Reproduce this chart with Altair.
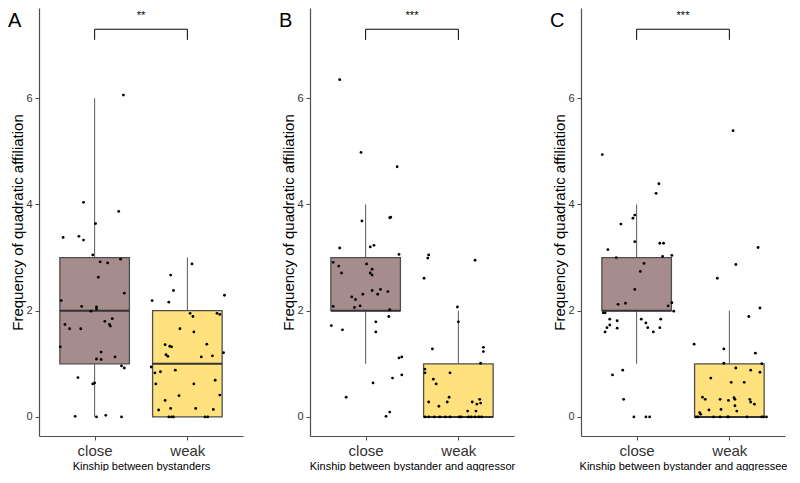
import altair as alt
import pandas as pd

groups = ["close", "weak"]
box_colors = ["#A68C8C", "#FFE27E"]
panel_letters = ["A", "B", "C"]
stars = ["**", "***", "***"]
x_titles = ["Kinship between bystanders",
            "Kinship between bystander and aggressor",
            "Kinship between bystander and aggressee"]
y_title = "Frequency of quadratic affiliation"

# box statistics per panel: [close, weak]
whisk_lo = [[0, 0], [1, 0], [1, 0]]
q1 = [[1, 0], [2, 0], [2, 0]]
med = [[2, 1], [2, 0], [2, 0]]
q3 = [[3, 2], [3, 1], [3, 1]]
whisk_hi = [[6, 3], [4, 2], [4, 2]]

# jittered observations (value, horizontal jitter in category units)
A_close_y = [6.06, 4.04, 3.87, 3.64, 3.38, 3.40, 3.33, 3.05, 2.97, 2.92, 2.90, 2.63, 2.33, 2.19,
             2.08, 2.07, 2.03, 1.99, 1.85, 1.80, 1.74, 1.71, 1.74, 1.66, 1.66, 1.32, 1.22, 1.13,
             1.09, 1.08, 0.96, 0.92, 0.74, 0.62, 0.64, 0.01, 0.0, 0.03, 0.0]
A_close_j = [0.31, -0.12, 0.26, 0.01, -0.34, -0.17, -0.12, -0.02, 0.28, 0.06, 0.14, 0.04, 0.32, -0.36,
             -0.14, 0.02, 0.02, -0.04, 0.19, 0.11, 0.16, 0.17, -0.32, -0.27, -0.15, -0.37, 0.07, 0.22,
             0.02, 0.07, 0.29, 0.32, -0.18, -0.02, 0.0, -0.21, 0.02, 0.12, 0.29]
A_weak_y = [2.88, 2.67, 2.38, 2.29, 2.19, 2.16, 1.95, 1.89, 1.95, 1.93, 1.66, 1.60, 1.37, 1.36,
            1.33, 1.32, 1.17, 1.14, 1.13, 1.15, 1.21, 0.94, 0.88, 0.83, 0.85, 0.62, 0.62, 0.69,
            0.40, 0.41, 0.31, 0.13, 0.16, 0.16, 0.14, 0.0, 0.0, 0.0, 0.0, 0.0]
A_weak_j = [0.05, -0.18, -0.15, 0.40, -0.38, -0.20, 0.03, 0.06, 0.32, 0.35, -0.08, 0.07, 0.21, -0.24,
            -0.19, -0.17, -0.23, -0.21, 0.15, 0.27, 0.39, -0.39, -0.13, -0.35, -0.29, -0.34, 0.07, 0.30,
            -0.09, 0.35, -0.24, -0.31, -0.18, 0.09, 0.28, -0.20, -0.17, -0.15, 0.19, 0.22]

B_close_y = [6.35, 4.98, 4.71, 3.75, 3.76, 3.69, 3.18, 3.20, 3.23, 3.06, 2.91, 2.84, 2.71, 2.88,
             2.78, 2.71, 2.67, 2.26, 2.21, 2.31, 2.38, 2.31, 2.40, 2.36, 2.09, 2.06, 2.08, 2.02,
             1.89, 1.79, 1.60, 1.72, 1.64, 1.11, 1.13, 0.79, 0.73, 0.64, 0.37, 0.09, 0.01]
B_close_j = [-0.28, -0.05, 0.34, 0.26, 0.27, -0.04, -0.28, 0.05, 0.09, 0.36, -0.35, -0.29, -0.26, 0.01,
             0.07, 0.05, 0.07, -0.15, -0.11, -0.03, 0.07, 0.13, 0.16, 0.24, -0.06, -0.12, -0.35, 0.26,
             0.25, 0.11, 0.11, -0.37, -0.25, 0.36, 0.39, 0.39, 0.29, 0.08, -0.21, 0.26, 0.22]
B_weak_y = [3.05, 2.99, 2.61, 2.95, 2.07, 1.79, 1.28, 1.31, 1.23, 1.01, 0.90, 0.83, 0.83, 0.71,
            0.62, 0.37, 0.28, 0.28, 0.20, 0.33, 0.28, 0.24, 0.26, 0.11, 0.11,
            0.0, 0.0, 0.0, 0.0, 0.0, 0.0, 0.0, 0.0, 0.0, 0.0, 0.0, 0.0, 0.0]
B_weak_j = [-0.32, -0.33, -0.37, 0.18, -0.01, 0.00, -0.28, 0.27, 0.27, 0.24, -0.36, -0.36, -0.09, -0.27,
            -0.24, -0.10, -0.32, -0.12, -0.21, 0.23, 0.15, 0.20, 0.24, 0.10, 0.19,
            -0.36, -0.32, -0.26, -0.20, -0.14, -0.09, 0.01, 0.03, 0.11, 0.14, 0.18, 0.22, 0.25]

C_close_y = [4.94, 4.39, 4.21, 3.80, 3.74, 3.63, 3.30, 3.27, 3.27, 3.15, 3.00, 3.02, 3.04, 2.89,
             2.74, 2.40, 2.12, 2.14, 2.15, 2.09, 1.99, 1.96, 1.96, 1.84, 1.81, 1.84, 1.84, 1.77,
             1.73, 1.68, 1.67, 1.68, 1.68, 1.60, 1.60, 0.88, 0.79, 0.33, 0.0, 0.0, 0.0]
C_close_j = [-0.37, 0.24, 0.21, -0.02, -0.04, -0.17, -0.02, 0.25, 0.29, -0.31, -0.22, 0.28, 0.38, 0.08,
             0.04, -0.02, -0.20, -0.12, 0.38, 0.34, 0.40, -0.36, -0.34, -0.29, -0.21, 0.05, 0.26, 0.10,
             -0.29, -0.32, -0.21, 0.12, 0.25, -0.34, 0.18, -0.15, -0.26, -0.14, -0.03, 0.10, 0.14]
C_weak_y = [5.39, 3.19, 2.87, 2.61, 2.05, 1.89, 1.37, 1.28, 1.20, 1.01, 1.00, 0.92, 0.88, 0.84,
            0.73, 0.65, 0.65, 0.37, 0.33, 0.33, 0.31, 0.36, 0.33, 0.33, 0.28, 0.24, 0.21, 0.13,
            0.14, 0.11, 0.08, 0.05, 0.0, 0.0, 0.0, 0.0, 0.0, 0.0, 0.0, 0.0, 0.0, 0.0]
C_weak_j = [0.04, 0.31, 0.07, -0.13, 0.33, 0.21, -0.38, -0.06, 0.28, -0.06, 0.35, 0.07, 0.23, 0.33,
            -0.20, 0.02, 0.16, -0.29, -0.26, -0.10, -0.01, 0.05, 0.06, 0.22, 0.23, 0.27, 0.06, -0.22,
            -0.09, 0.08, -0.32, -0.31, -0.36, -0.34, -0.17, -0.10, -0.02, -0.01, 0.19, 0.35, 0.37, 0.40]

points = [
    ((A_close_y, A_close_j), (A_weak_y, A_weak_j)),
    ((B_close_y, B_close_j), (B_weak_y, B_weak_j)),
    ((C_close_y, C_close_j), (C_weak_y, C_weak_j)),
]

FONT = "Liberation Sans"
BOX_HALF = 0.375
W, H = 204, 428
xscale = alt.Scale(domain=[0.4, 2.6], nice=False, zero=False)
yscale = alt.Scale(domain=[-0.36, 7.7], nice=False, zero=False)
fill_scale = alt.Scale(domain=groups, range=box_colors)


def panel(i):
    box_df = pd.DataFrame({
        "group": groups,
        "pos": [1, 2],
        "lo": whisk_lo[i], "q1": q1[i], "med": med[i], "q3": q3[i], "hi": whisk_hi[i],
    })
    rows = []
    for g, (ys, js) in enumerate(points[i]):
        for y, j in zip(ys, js):
            rows.append({"group": groups[g], "pos": g + 1, "value": y, "jit": j})
    pts_df = pd.DataFrame(rows)

    base_box = alt.Chart(box_df).transform_calculate(
        xl=f"datum.pos - {BOX_HALF}", xr=f"datum.pos + {BOX_HALF}"
    )

    whisker = base_box.mark_rule(color="#595959", strokeWidth=1).encode(
        x=alt.X("pos:Q", scale=xscale,
                axis=alt.Axis(values=[1, 2], title=x_titles[i],
                              labelExpr="datum.value == 1 ? 'close' : 'weak'")),
        y=alt.Y("lo:Q", scale=yscale,
                axis=alt.Axis(values=[0, 2, 4, 6], title=y_title)),
        y2="hi:Q",
    )
    box = base_box.mark_bar(stroke="#4d4d4d", strokeWidth=1.3).encode(
        x=alt.X("xl:Q", scale=xscale), x2="xr:Q",
        y=alt.Y("q1:Q", scale=yscale), y2="q3:Q",
        fill=alt.Fill("group:N", scale=fill_scale, legend=None),
    )
    median = base_box.mark_rule(color="#333333", strokeWidth=2).encode(
        x=alt.X("xl:Q", scale=xscale), x2="xr:Q",
        y=alt.Y("med:Q", scale=yscale),
    )
    pts = alt.Chart(pts_df).transform_calculate(
        xp="datum.pos + datum.jit"
    ).mark_circle(color="black", size=8, opacity=1).encode(
        x=alt.X("xp:Q", scale=xscale),
        y=alt.Y("value:Q", scale=yscale),
    )
    br_df = pd.DataFrame({"x1": [1], "x2": [2], "top": [7.3], "leg": [7.1],
                          "mid": [1.5], "ty": [7.55], "stars": [stars[i]]})
    br = alt.Chart(br_df)
    bracket_h = br.mark_rule(color="black", strokeWidth=1).encode(
        x=alt.X("x1:Q", scale=xscale), x2="x2:Q", y=alt.Y("top:Q", scale=yscale))
    bracket_l = br.mark_rule(color="black", strokeWidth=1).encode(
        x=alt.X("x1:Q", scale=xscale), y=alt.Y("top:Q", scale=yscale), y2="leg:Q")
    bracket_r = br.mark_rule(color="black", strokeWidth=1).encode(
        x=alt.X("x2:Q", scale=xscale), y=alt.Y("top:Q", scale=yscale), y2="leg:Q")
    star_txt = br.mark_text(font=FONT, fontSize=11, color="black", baseline="middle").encode(
        x=alt.X("mid:Q", scale=xscale), y=alt.Y("ty:Q", scale=yscale), text="stars:N")
    letter = alt.Chart(pd.DataFrame({"t": [panel_letters[i]]})).mark_text(
        font=FONT, fontSize=20, color="black", align="left", baseline="top"
    ).encode(x=alt.value(-31), y=alt.value(3), text="t:N")

    return alt.layer(whisker, box, median, pts, bracket_h, bracket_l, bracket_r,
                     star_txt, letter).properties(width=W, height=H)


chart = alt.hconcat(panel(0), panel(1), panel(2), spacing=67, bounds="flush").properties(
    padding=0
).configure_view(
    stroke=None
).configure_axis(
    grid=False, domainColor="#4d4d4d", tickColor="#4d4d4d", tickSize=4,
    labelFont=FONT, titleFont=FONT, titleFontWeight="normal", titleColor="black",
    labelColor="#333333", domainWidth=1.2,
).configure_axisX(
    labelFontSize=15, titleFontSize=11, labelPadding=3, titlePadding=2,
).configure_axisY(
    labelFontSize=11, titleFontSize=15, labelPadding=3, titlePadding=0,
)

chart.save("out.html", embed_options={"renderer": "svg", "actions": False})
